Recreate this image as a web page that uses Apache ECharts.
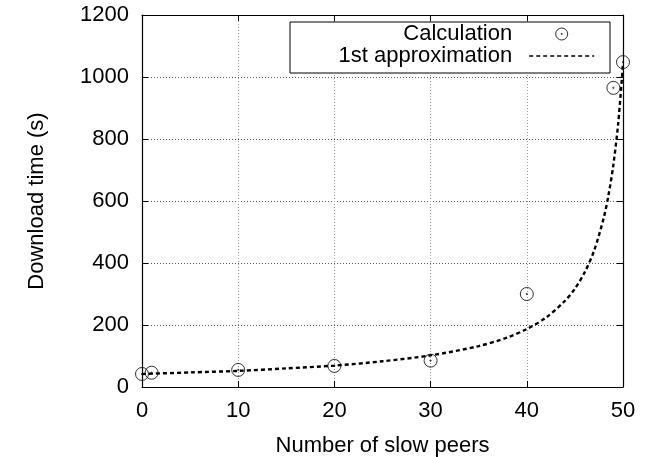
<!DOCTYPE html>
<html>
<head>
<meta charset="utf-8">
<script src="https://cdn.jsdelivr.net/npm/echarts@6/dist/echarts.min.js"></script>
<style>
html,body{margin:0;padding:0;background:#fff;}
#chart{width:646px;height:457px;}
</style>
</head>
<body>
<div id="chart"></div>
<script>
// Data
var calcX = [0, 1, 10, 20, 30, 40, 49, 50];
var calcY = [42, 46, 55, 68, 85, 300, 965, 1048];

var approxX = [0, 5, 10, 15, 20, 25, 30, 35, 38, 40, 42, 44, 45, 46, 47, 48, 48.5, 49, 49.5, 50];
var approxY = [42, 47, 52, 60, 69, 83, 102, 132, 160, 187, 224, 279, 317, 369, 440, 546, 620, 717, 850, 1043];

var xTicks = [0, 10, 20, 30, 40, 50];
var yTicks = [0, 200, 400, 600, 800, 1000, 1200];

var seriesNames = ['Calculation', '1st approximation'];
var xTitle = 'Number of slow peers';
var yTitle = 'Download time (s)';

function pairs(xs, ys) { return xs.map(function (x, i) { return [x, ys[i]]; }); }

var FONT = 'Liberation Sans, Arial, Helvetica, sans-serif';
var FS = 22;
var circleDot = 'path://M12,6A6,6,0,1,1,0,6A6,6,0,1,1,12,6ZM6.6,6A0.6,0.6,0,1,1,5.4,6A0.6,0.6,0,1,1,6.6,6Z';

var chart = echarts.init(document.getElementById('chart'), null, {renderer: 'canvas'});
var option = {
  backgroundColor: '#fff',
  animation: false,
  textStyle: {fontFamily: FONT},
  grid: {left: 142, right: 23, top: 15, bottom: 70, containLabel: false, outerBoundsMode: 'none'},
  legend: {
    orient: 'vertical',
    align: 'right',
    right: 51,
    top: 23,
    padding: 0,
    itemGap: 0,
    itemWidth: 65,
    itemHeight: 12,
    z: 5,
    data: [
      {name: seriesNames[0], icon: circleDot, itemStyle: {borderWidth: 1}},
      {name: seriesNames[1], itemStyle: {opacity: 0, borderWidth: 0}}
    ],
    lineStyle: {width: 1.6},
    textStyle: {fontSize: FS, color: '#000', fontFamily: FONT, padding: [0, 12, 0, 0]}
  },
  graphic: [{
    type: 'rect',
    z: 4,
    shape: {x: 290, y: 22, width: 320, height: 51},
    style: {fill: '#fff', stroke: '#000', lineWidth: 1}
  }],
  xAxis: [{
    type: 'value',
    min: xTicks[0], max: xTicks[xTicks.length - 1], interval: 10,
    name: xTitle, nameLocation: 'middle', nameGap: 48,
    nameTextStyle: {fontSize: FS, color: '#000', fontFamily: FONT},
    axisLine: {show: true, onZero: false, lineStyle: {color: '#000', width: 1.2}},
    axisTick: {show: true, inside: true, length: 6, lineStyle: {color: '#000'}},
    axisLabel: {fontSize: FS, color: '#000', margin: 13, fontFamily: FONT},
    splitLine: {show: true, lineStyle: {color: '#999', type: [1, 2], width: 1}}
  }, {
    type: 'value', position: 'top',
    min: xTicks[0], max: xTicks[xTicks.length - 1], interval: 10,
    axisLine: {show: true, onZero: false, lineStyle: {color: '#000', width: 1.2}},
    axisTick: {show: true, inside: true, length: 6, lineStyle: {color: '#000'}},
    axisLabel: {show: false},
    splitLine: {show: false}
  }],
  yAxis: [{
    type: 'value',
    min: yTicks[0], max: yTicks[yTicks.length - 1], interval: 200,
    name: yTitle, nameLocation: 'middle', nameGap: 94, nameRotate: 90,
    nameTextStyle: {fontSize: FS, color: '#000', fontFamily: FONT},
    axisLine: {show: true, onZero: false, lineStyle: {color: '#000', width: 1.2}},
    axisTick: {show: true, inside: true, length: 6, lineStyle: {color: '#000'}},
    axisLabel: {fontSize: FS, color: '#000', margin: 13, fontFamily: FONT,
      formatter: function (v) { return String(v); }},
    splitLine: {show: true, lineStyle: {color: '#555', type: [1, 2], width: 1}}
  }, {
    type: 'value', position: 'right',
    min: yTicks[0], max: yTicks[yTicks.length - 1], interval: 200,
    axisLine: {show: true, onZero: false, lineStyle: {color: '#000', width: 1.2}},
    axisTick: {show: true, inside: true, length: 6, lineStyle: {color: '#000'}},
    axisLabel: {show: false},
    splitLine: {show: false}
  }],
  series: [{
    name: seriesNames[0],
    type: 'scatter',
    xAxisIndex: 0, yAxisIndex: 0,
    symbol: circleDot,
    symbolSize: 13,
    itemStyle: {color: 'rgba(0,0,0,0)', borderColor: '#000', borderWidth: 1},
    data: pairs(calcX, calcY),
    z: 3
  }, {
    name: seriesNames[1],
    type: 'line',
    xAxisIndex: 0, yAxisIndex: 0,
    smooth: 0.3,
    symbol: 'none',
    showSymbol: false,
    lineStyle: {color: '#000', width: 2.4, type: [4, 3]},
    itemStyle: {color: '#000'},
    data: pairs(approxX, approxY),
    z: 2
  }]
};
chart.setOption(option);
</script>
</body>
</html>
